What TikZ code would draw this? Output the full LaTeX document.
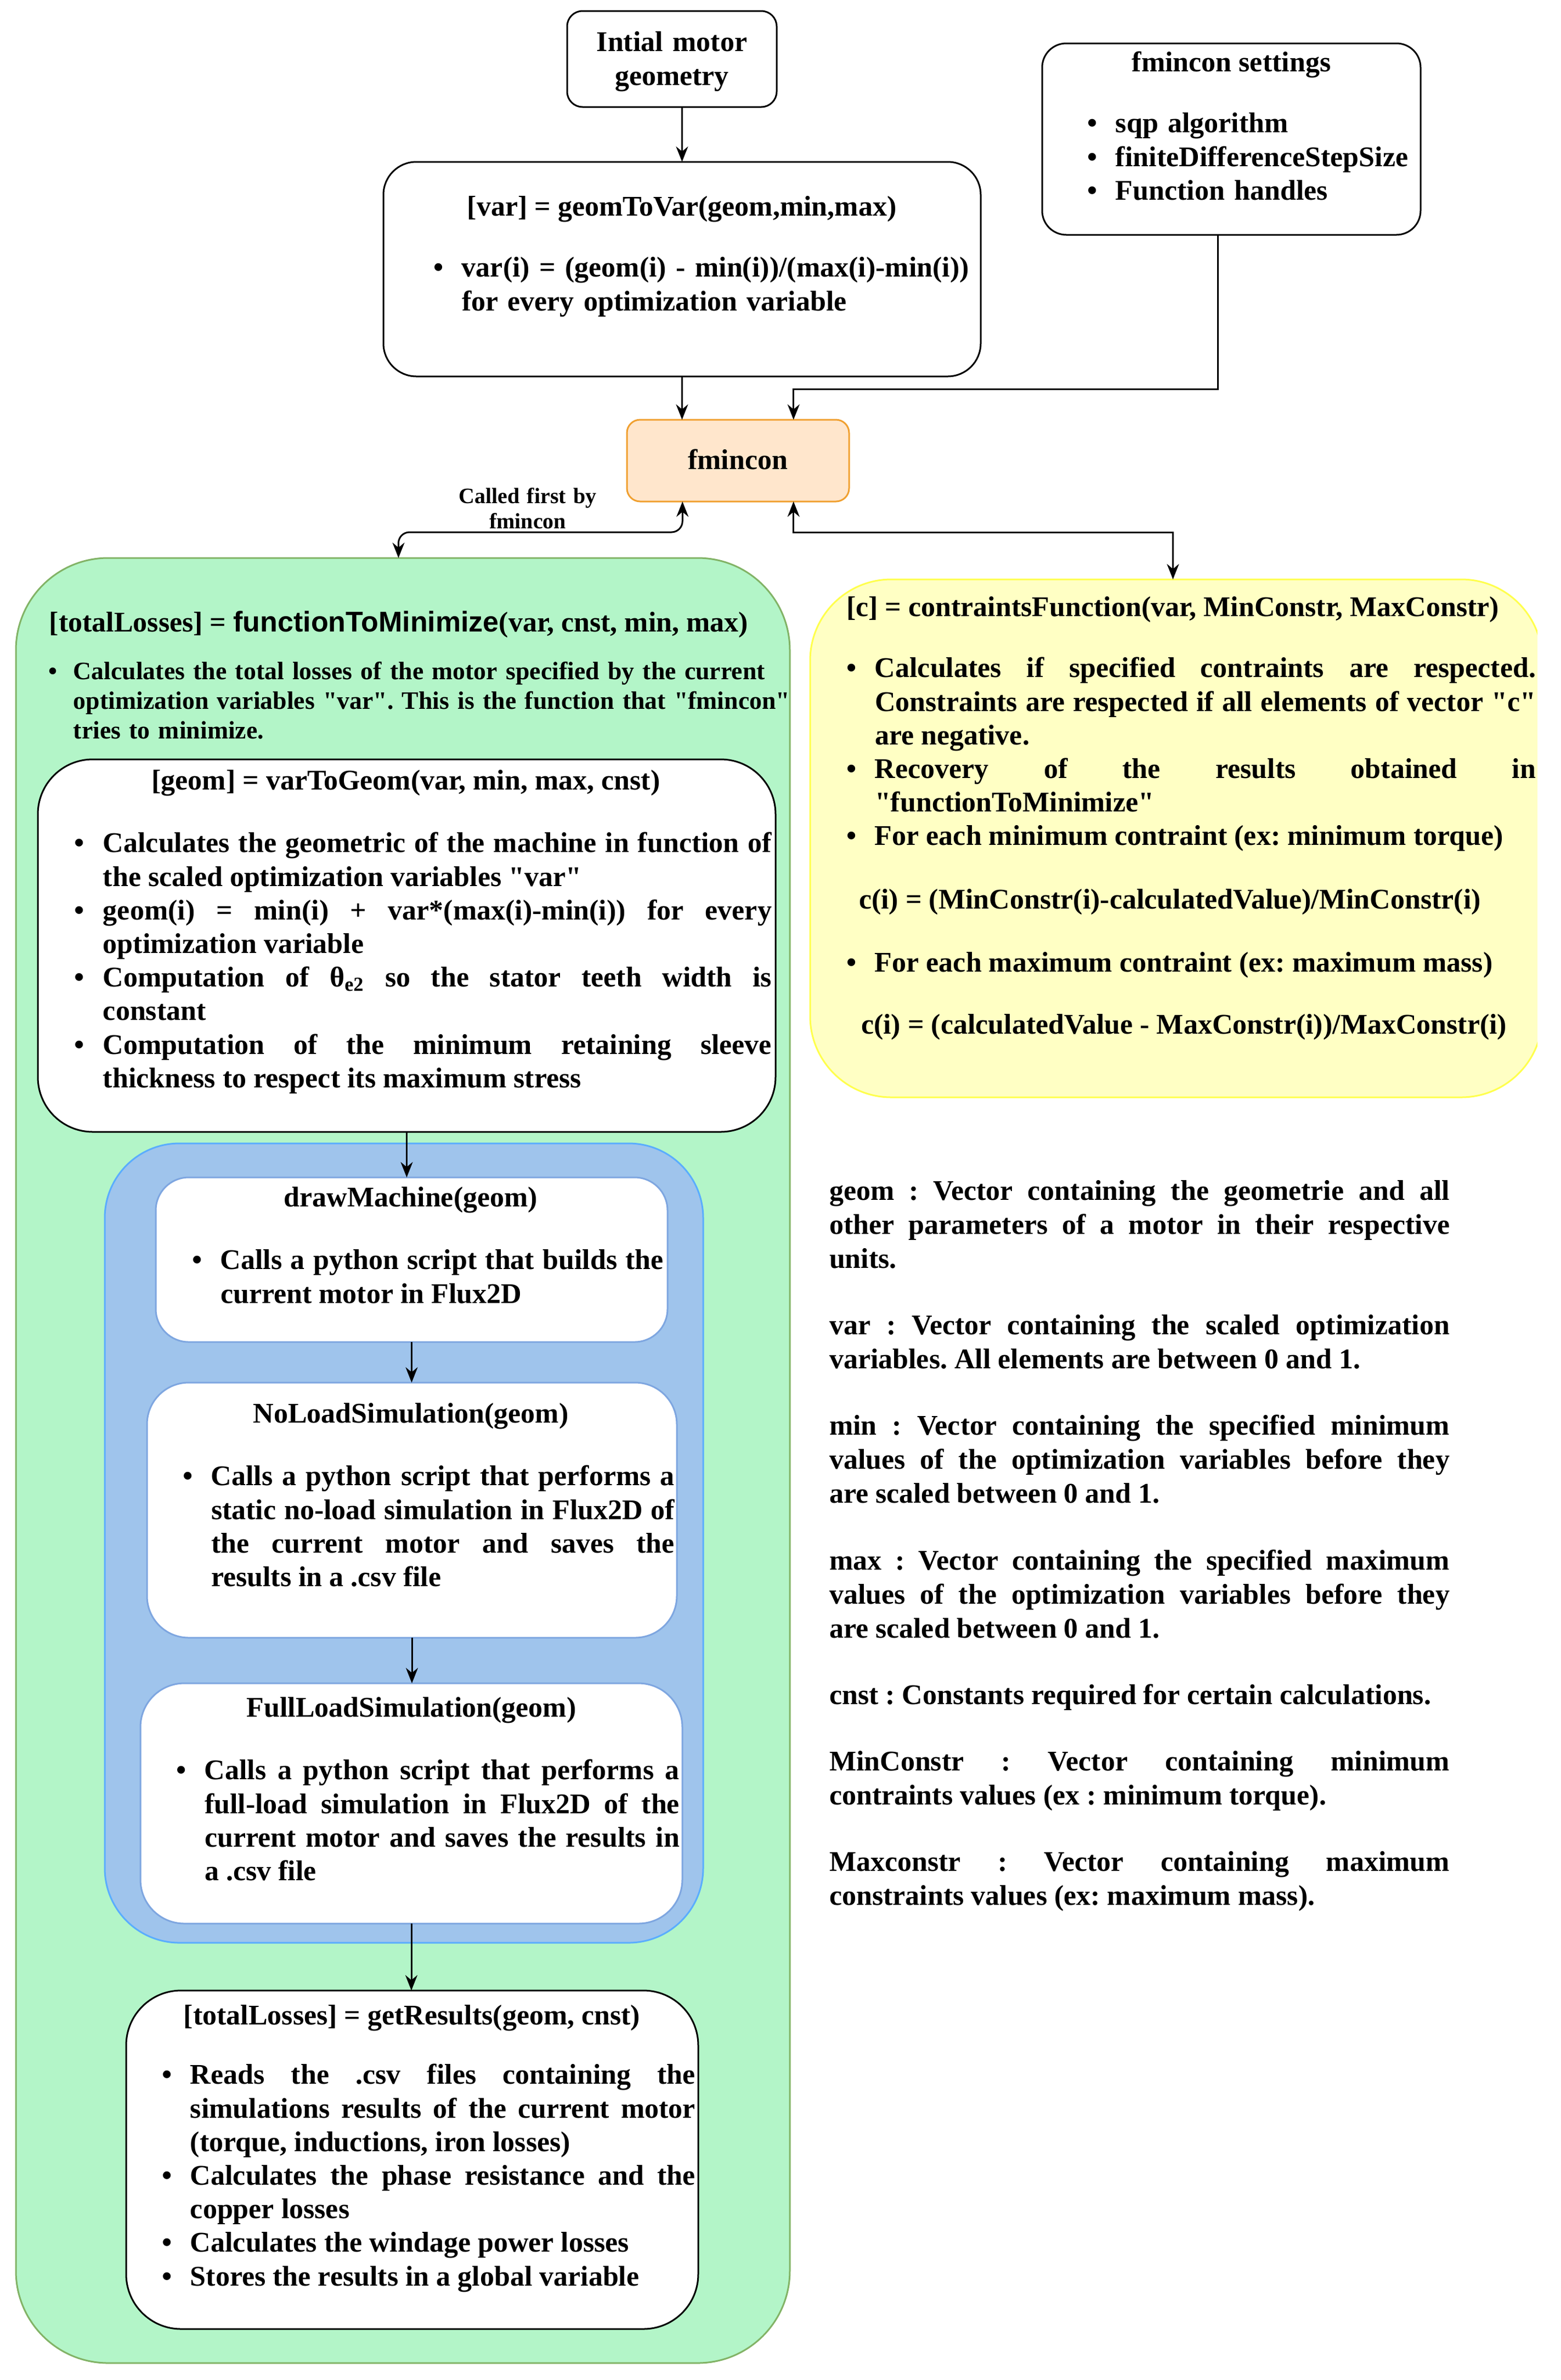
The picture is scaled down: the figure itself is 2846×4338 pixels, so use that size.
\documentclass[tikz,border=0pt]{standalone}
\usepackage{fontspec}
\setmainfont{Liberation Serif}[Ligatures=TeXOff, WordSpace={1,1,0}]
\newfontfamily\sansfont{Liberation Sans}[WordSpace={1,1,0}]
\usetikzlibrary{positioning,arrows.meta,calc}

\definecolor{fminfill}{HTML}{FFE6CC}
\definecolor{fminline}{HTML}{F0A030}
\definecolor{greenfill}{HTML}{B3F5C8}
\definecolor{greenline}{HTML}{82B366}
\definecolor{yellowfill}{HTML}{FFFFC4}
\definecolor{yellowline}{HTML}{FFFF4D}
\definecolor{bluefill}{HTML}{9FC4EC}
\definecolor{blueline}{HTML}{5AADFF}
\definecolor{innerline}{HTML}{7EA6E0}

\setlength{\parindent}{0pt}
\hyphenpenalty=10000
\exhyphenpenalty=10000
\tolerance=9999
\hbadness=10000
\hfuzz=30pt
\frenchspacing

\newcommand{\bul}[1]{\noindent\hangindent=1em\hangafter=1\hbox to 1em{\strut\textbullet\hfil}#1\par}

\tikzset{
  box/.style={draw=black, line width=0.75pt, inner sep=0pt, outer sep=0pt, anchor=north west},
  arr/.style={line width=0.75pt, -{Stealth[length=7pt,width=5.5pt]}},
  dblarr/.style={line width=0.75pt, {Stealth[length=7pt,width=5.5pt]}-{Stealth[length=7pt,width=5.5pt]}},
  txt/.style={inner sep=0pt, outer sep=0pt, font=\bfseries\fontsize{13}{15.3}\selectfont},
  bullets/.style={txt, anchor=north west, align=justify},
}

\begin{document}
\begin{tikzpicture}[x=0.25pt, y=-0.25pt]
\useasboundingbox (0,0) rectangle (2846,4338);
\clip (0,0) rectangle (2803,4338);

\node[box, draw=greenline, fill=greenfill, rounded corners=42pt, minimum width=352.75pt, minimum height=822.5pt] (green) at (29,1017) {};
\node[box, draw=blueline, fill=bluefill, rounded corners=34pt, minimum width=272.75pt, minimum height=364.25pt] (blue) at (191,2084) {};
\node[box, fill=white, rounded corners=25pt, minimum width=336.25pt, minimum height=169.75pt] (geom) at (69,1384) {};
\node[box, draw=innerline, fill=white, rounded corners=15pt, minimum width=233.25pt, minimum height=75pt] (drawm) at (284,2146) {};
\node[box, draw=innerline, fill=white, rounded corners=19pt, minimum width=241.5pt, minimum height=116.25pt] (noload) at (268,2520) {};
\node[box, draw=innerline, fill=white, rounded corners=20pt, minimum width=247pt, minimum height=109.5pt] (fullload) at (256,3068) {};
\node[box, fill=white, rounded corners=25pt, minimum width=260.75pt, minimum height=154.25pt] (getres) at (230,3628) {};
\node[box, draw=yellowline, fill=yellowfill, rounded corners=37pt, minimum width=333.75pt, minimum height=236pt] (yellow) at (1477,1056) {};

\node[box, rounded corners=7pt, minimum width=95.5pt, minimum height=43.75pt] (intial) at (1034,20) {};
\node[box, rounded corners=11pt, minimum width=172.5pt, minimum height=87.25pt] (settings) at (1900,79) {};
\node[box, rounded corners=15pt, minimum width=272.25pt, minimum height=97.75pt] (geomtovar) at (699,295) {};
\node[box, draw=fminline, fill=fminfill, rounded corners=6pt, minimum width=101.25pt, minimum height=37.25pt] (fmincon) at (1143,765) {};

\coordinate (fminNL) at ($(fmincon.north west)!0.25!(fmincon.north east)$);
\coordinate (fminNR) at ($(fmincon.north west)!0.75!(fmincon.north east)$);
\coordinate (fminSL) at ($(fmincon.south west)!0.25!(fmincon.south east)$);
\coordinate (fminSR) at ($(fmincon.south west)!0.75!(fmincon.south east)$);

\draw[arr] (intial.south -| geomtovar.north) -- (geomtovar.north);
\draw[arr] (geomtovar.south) -- (geomtovar.south |- fmincon.north);
\draw[arr] ([xshift=-6.25pt]settings.south) |- ($(fminNR)+(0,-56)$) -- (fminNR);
\draw[dblarr, rounded corners=5pt] (fminSL) -- ++(0,56) -| ([xshift=-2pt]green.north);
\draw[dblarr] (fminSR) -- ++(0,56) -| ([xshift=-1.5pt]yellow.north);
\draw[arr] (geom.south) -- (geom.south |- drawm.north);
\draw[arr] (drawm.south) -- (drawm.south |- noload.north);
\draw[arr] (noload.south) -- (noload.south |- fullload.north);
\draw[arr] (fullload.south) -- (fullload.south |- getres.north);

\node[txt, anchor=north, text width=95pt, align=center] (intialtxt) at (1225,51) {\strut Intial motor\\geometry};

\node[txt, anchor=base] (settitle) at (2245,130) {fmincon settings};
\node[bullets, align=left, text width=160pt] (setbul) at (1982,199) {\bul{sqp algorithm}\bul{finiteDifferenceStepSize}\bul{Function handles}};

\node[txt, anchor=base] (g2vtitle) at (1243,393) {[var] = geomToVar(geom,min,max)};
\node[bullets, align=left, text width=250pt] (g2vbul) at (790,462) {\bul{var(i) = (geom(i) - min(i))/(max(i)-min(i)) for every optimization variable}};

\node[txt, anchor=base] (fmintxt) at (1345,855) {fmincon};
\node[txt, font=\bfseries\fontsize{10}{11.5}\selectfont, anchor=north, text width=100pt, align=center] (calledtxt) at (962,885) {\strut Called first by\\fmincon};

\node[txt, anchor=base] (greentitle) at (727,1151) {[totalLosses] = {\sansfont functionToMinimize}(var, cnst, min, max)};
\node[bullets, align=left, text width=345pt, font=\bfseries\fontsize{11.45}{13.6}\selectfont] (greenbul) at (88,1200) {\bul{Calculates the total losses of the motor specified by the current\newline optimization variables "var". This is the function that "fmincon"\newline tries to minimize.}};

\node[txt, anchor=base] (geomtitle) at (740,1439) {[geom] = varToGeom(var, min, max, cnst)};
\node[bullets, text width=317.75pt] (geombul) at (136,1511) {\bul{Calculates the geometric of the machine in function of the scaled optimization variables "var"}\bul{geom(i) = min(i) + var*(max(i)-min(i)) for every optimization variable}\bul{Computation of θ\textsubscript{e2} so the stator teeth width is constant}\bul{Computation of the minimum retaining sleeve thickness to respect its maximum stress}};

\node[txt, anchor=base] (drawmtitle) at (749,2199) {drawMachine(geom)};
\node[bullets, text width=215pt] (drawmbul) at (350,2271) {\bul{Calls a python script that builds the current motor in Flux2D}};

\node[txt, anchor=base] (noloadtitle) at (749,2593) {NoLoadSimulation(geom)};
\node[bullets, text width=224.25pt] (noloadbul) at (333,2665) {\bul{Calls a python script that performs a\linebreak static no-load simulation in Flux2D of\linebreak the current motor and saves the results in a .csv file}};

\node[txt, anchor=base] (fulltitle) at (750,3129) {FullLoadSimulation(geom)};
\node[bullets, text width=229.5pt] (fullbul) at (321,3201) {\bul{Calls a python script that performs a full-load simulation in Flux2D of the current motor and saves the results in a .csv file}};

\node[txt, anchor=base] (restitle) at (751,3690) {[totalLosses] = getResults(geom, cnst)};
\node[bullets, text width=243.25pt] (resbul) at (295,3756) {\bul{Reads the .csv files containing the simulations results of the current motor (torque, inductions, iron losses)}\bul{Calculates the phase resistance and the copper losses}\bul{Calculates the windage power losses}\bul{Stores the results in a global variable}};

\node[txt, anchor=base] (ytitle) at (2138,1123) {[c] = contraintsFunction(var, MinConstr, MaxConstr)};
\node[bullets, text width=314.25pt] (ybul) at (1543,1192) {\bul{Calculates if specified contraints are respected.\linebreak Constraints are respected if all elements of vector "c"\linebreak are negative.}\bul{Recovery of the results obtained in "functionToMinimize"}\bul{For each minimum contraint (ex: minimum torque)}};
\node[txt, anchor=base west] (ymin) at (1566,1656) {c(i) = (MinConstr(i)-calculatedValue)/MinConstr(i)};
\node[bullets, text width=314.25pt] (ybul2) at (1543,1729) {\bul{For each maximum contraint (ex: maximum mass)}};
\node[txt, anchor=base west] (ymax) at (1570,1884) {c(i) = (calculatedValue - MaxConstr(i))/MaxConstr(i)};

\node[bullets, text width=282.75pt, font=\bfseries\fontsize{13}{15.5}\selectfont] (legend) at (1512,2144) {\strut geom : Vector containing the geometrie and all other parameters of a motor in their respective units.\par\vspace{14.8pt}
var : Vector containing the scaled optimization variables. All elements are between 0 and 1.\par\vspace{14.8pt}
min : Vector containing the specified minimum values of the optimization variables before they are scaled between 0 and 1.\par\vspace{14.8pt}
max : Vector containing the specified maximum values of the optimization variables before they are scaled between 0 and 1.\par\vspace{14.8pt}
cnst : Constants required for certain calculations.\par\vspace{14.8pt}
MinConstr : Vector containing minimum contraints values (ex : minimum torque).\par\vspace{14.8pt}
Maxconstr : Vector containing maximum constraints values (ex: maximum mass).};

\end{tikzpicture}
\end{document}
